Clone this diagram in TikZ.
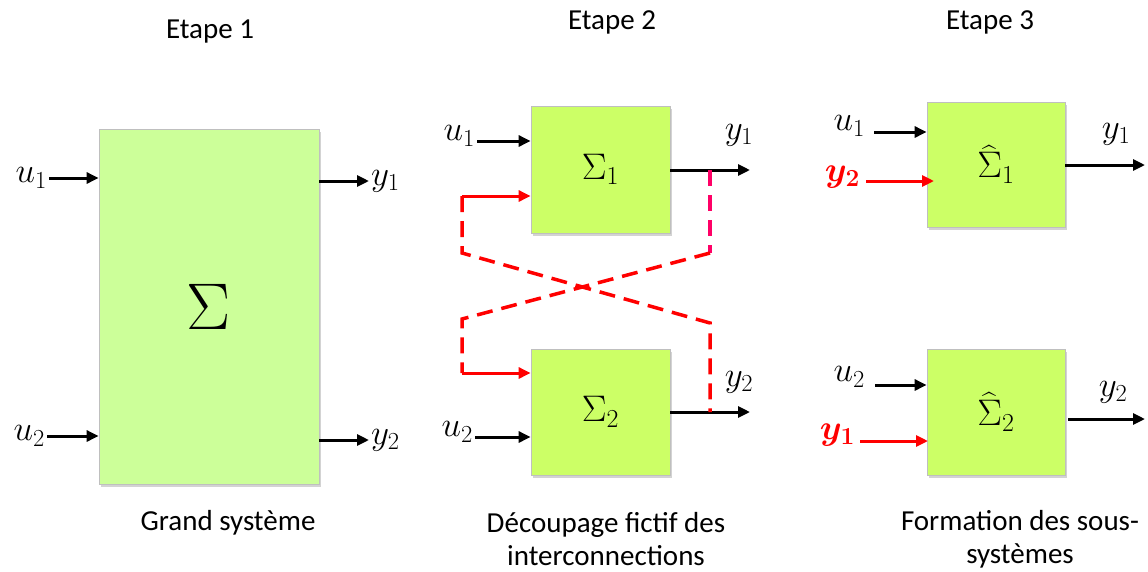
\RequirePackage{fix-cm}
\documentclass[tikz,border=0pt]{standalone}
\usepackage{amsmath}
\usepackage{bm}
\usepackage[no-math]{fontspec}
\setmainfont{Carlito}
\usepackage{tikz}
\usetikzlibrary{arrows.meta}
\usetikzlibrary{positioning}
\usetikzlibrary{shadows}

\definecolor{boxbig}{RGB}{204,255,153}
\definecolor{boxsmall}{RGB}{204,255,102}
\definecolor{tapred}{RGB}{255,0,102}

\begin{document}
\begin{tikzpicture}[x=1pt,y=-1pt,
  blk/.style={draw=black!25,line width=0.8pt,inner sep=0pt,
    drop shadow={shadow xshift=1.5pt,shadow yshift=-2.5pt,opacity=0.35}},
  sig/.style={-{Triangle[length=12pt,width=11pt]},line width=3pt},
  fb/.style={sig,red},
  cut/.style={line width=3.5pt,red,dash pattern=on 16pt off 9pt},
  lbl/.style={inner sep=2pt,font=\fontsize{35}{38}\selectfont},
  sub/.style={font=\fontsize{37}{40}\selectfont},
  txt/.style={font=\fontsize{29}{33}\selectfont,align=center}]
  \useasboundingbox (0,0) rectangle (1148,571);

  % titres
  \node[txt] (e1) at (210,32) {Etape 1};
  \node[txt] (e2) at (612,22) {Etape 2};
  \node[txt] (e3) at (990,22) {Etape 3};

  % etape 1
  \node[blk,fill=boxbig,minimum width=220pt,minimum height=355pt,
    font=\fontsize{66}{70}\selectfont] (S) at (209,306.5) {$\Sigma$};
  \node[lbl,anchor=east] (u1) at (49,178) {$u_1$};
  \node[lbl,anchor=east] (u2) at (47,436) {$u_2$};
  \node[lbl,anchor=west] (y1) at (369,181) {$y_1$};
  \node[lbl,anchor=west] (y2) at (369,440) {$y_2$};
  \draw[sig] (u1.east) -- (u1.east -| S.west);
  \draw[sig] (u2.east) -- (u2.east -| S.west);
  \draw[sig] (y1.west -| S.east) -- (y1.west);
  \draw[sig] (y2.west -| S.east) -- (y2.west);
  \node[txt] (g1) at (228,523) {Grand système};

  % etape 2
  \node[blk,sub,fill=boxsmall,minimum width=139pt,minimum height=127pt]
    (S1) at (600.5,169.5) {$\Sigma_1$};
  \node[blk,sub,fill=boxsmall,minimum width=139pt,minimum height=126pt]
    (S2) at (600.5,412) {$\Sigma_2$};
  \node[lbl,anchor=east] (v1) at (477,136) {$u_1$};
  \node[lbl,anchor=east] (v2) at (475,432) {$u_2$};
  \node[lbl] (w1) at (739,135) {$y_1$};
  \node[lbl] (w2) at (739,382) {$y_2$};
  \coordinate (o1) at (750,170);
  \coordinate (o2) at (750,412);
  \coordinate (t1) at (710,170);
  \coordinate (t2) at (710,412);
  \coordinate (i1) at (462,196);
  \coordinate (i2) at (462,373);
  \draw[sig] (v1.east |- 0,141) -- (S1.west |- 0,141);
  \draw[sig] (v2.east |- 0,437) -- (S2.west |- 0,437);
  \draw[sig] (S1.east |- o1) -- (o1);
  \draw[sig] (S2.east |- o2) -- (o2);
  \draw[fb] (i1) -- (i1 -| S1.west);
  \draw[fb] (i2) -- (i2 -| S2.west);
  \draw[cut,tapred] (t1) -- (710,253);
  \draw[cut] (710,253) -- (462,319) -- (i2);
  \draw[cut] (i1) -- (462,253) -- (710,323) -- (t2);
  \node[txt] (g2) at (606,539) {Découpage fictif des\\interconnections};

  % etape 3
  \node[blk,sub,fill=boxsmall,minimum width=138pt,minimum height=125pt]
    (H1) at (996,164.5) {$\widehat{\Sigma}_1$};
  \node[blk,sub,fill=boxsmall,minimum width=138pt,minimum height=126pt]
    (H2) at (996,412) {$\widehat{\Sigma}_2$};
  \node[lbl,anchor=east] (p1) at (867,126) {$u_1$};
  \node[lbl,anchor=east] (p2) at (867,377) {$u_2$};
  \node[lbl,anchor=east,red] (q2) at (862,177) {$\bm{y_2}$};
  \node[lbl,anchor=east,red] (q1) at (857,435) {$\bm{y_1}$};
  \node[lbl] (r1) at (1116,134) {$y_1$};
  \node[lbl] (r2) at (1113,392) {$y_2$};
  \coordinate (k1) at (1145,165);
  \coordinate (k2) at (1145,419);
  \draw[sig] (874,132) -- (H1.west |- 0,132);
  \draw[sig] (875,385) -- (H2.west |- 0,385);
  \draw[fb] (866,181) -- (934,181);
  \draw[fb] (860,441) -- (928,441);
  \draw[sig] (H1.east |- k1) -- (k1);
  \draw[sig] (1068,419) -- (k2);
  \node[txt] (g3) at (1020,539) {Formation des sous-\\systèmes};
\end{tikzpicture}
\end{document}
